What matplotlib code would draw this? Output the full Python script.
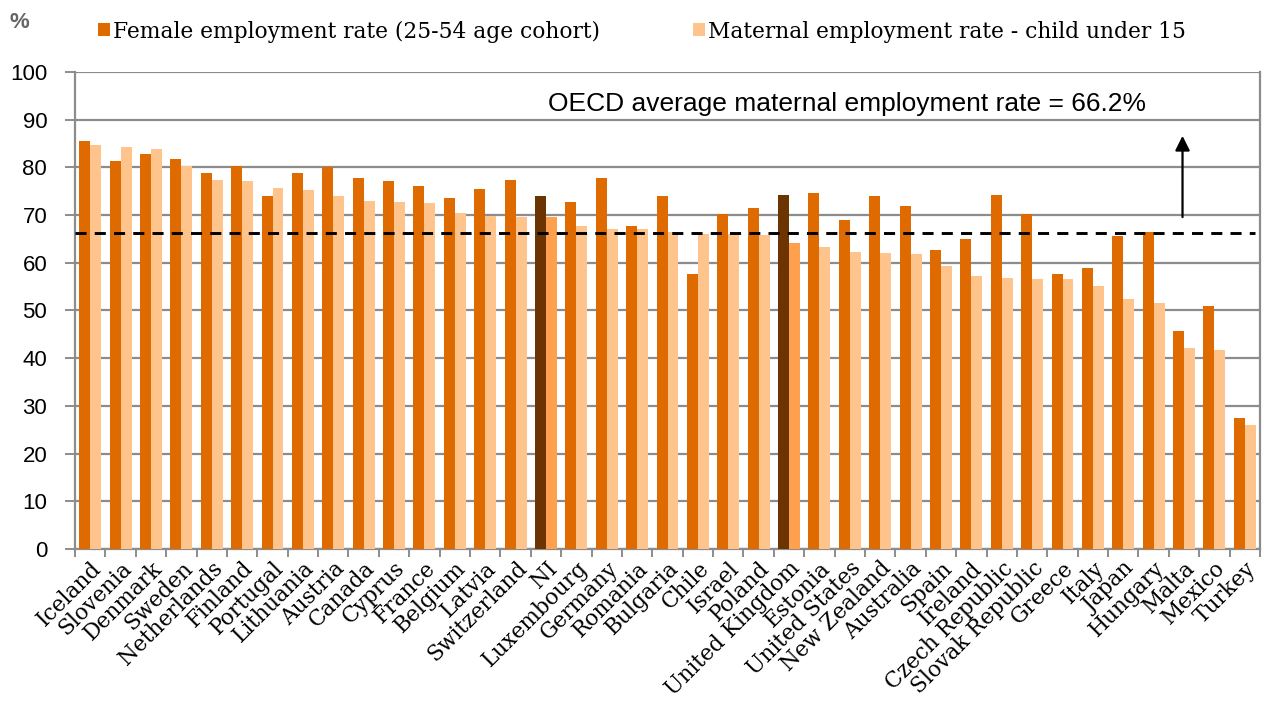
import matplotlib
matplotlib.use("Agg")
import matplotlib.pyplot as plt
from matplotlib.patches import Patch
import numpy as np

countries = ["Iceland", "Slovenia", "Denmark", "Sweden", "Netherlands", "Finland",
             "Portugal", "Lithuania", "Austria", "Canada", "Cyprus", "France",
             "Belgium", "Latvia", "Switzerland", "NI", "Luxembourg", "Germany",
             "Romania", "Bulgaria", "Chile", "Israel", "Poland", "United Kingdom",
             "Estonia", "United States", "New Zealand", "Australia", "Spain",
             "Ireland", "Czech Republic", "Slovak Republic", "Greece", "Italy",
             "Japan", "Hungary", "Malta", "Mexico", "Turkey"]

female_rate = [85.6, 81.3, 82.9, 81.8, 78.9, 80.3, 74.0, 78.9, 80.1, 77.8, 77.1, 76.2,
               73.6, 75.5, 77.4, 73.9, 72.8, 77.8, 67.8, 73.9, 57.7, 70.2, 71.4, 74.3,
               74.7, 69.0, 74.1, 72.0, 62.6, 65.0, 74.3, 70.3, 57.6, 58.9, 65.6, 66.5,
               45.8, 51.0, 27.5]

maternal_rate = [84.7, 84.3, 83.9, 80.3, 77.4, 77.1, 75.6, 75.3, 73.9, 72.9, 72.8, 72.5,
                 70.5, 69.8, 69.6, 69.5, 67.7, 67.1, 67.0, 66.5, 66.0, 66.0, 65.8, 64.2,
                 63.4, 62.3, 62.1, 61.9, 59.3, 57.3, 56.8, 56.7, 56.5, 55.2, 52.4, 51.6,
                 42.1, 41.8, 25.9]

oecd_average = 66.2
highlighted = ["NI", "United Kingdom"]

yticks = list(range(0, 101, 10))

c_female = "#DE6A00"
c_maternal = "#FFC38C"
c_female_hl = "#6B3400"
c_maternal_hl = "#FFA04E"
grid_gray = "#8C8C8C"

fig = plt.figure(figsize=(12.64, 7.04), dpi=100)
ax = fig.add_axes([75 / 1264, 1 - 549 / 704, (1260 - 75) / 1264, (549 - 72) / 704])

x = np.arange(len(countries))
w = 0.36
fcols = [c_female_hl if c in highlighted else c_female for c in countries]
mcols = [c_maternal_hl if c in highlighted else c_maternal for c in countries]
ax.bar(x - w / 2, female_rate, width=w, color=fcols, zorder=3)
ax.bar(x + w / 2, maternal_rate, width=w, color=mcols, zorder=3)

ax.set_xlim(-0.5, len(countries) - 0.5)
ax.set_ylim(0, 100)
ax.set_yticks(yticks)
ax.set_yticklabels([str(v) for v in yticks], fontsize=16, family="Liberation Sans")
ax.yaxis.grid(True, color=grid_gray, linewidth=1.6, zorder=0)
ax.set_axisbelow(True)

ax.set_xticks(x)
ax.set_xticklabels(countries, rotation=45, ha="right", va="top",
                   rotation_mode="anchor", fontsize=15.6, family="DejaVu Serif")
ax.tick_params(axis="x", length=0, pad=6)
ax.set_xticks(np.arange(len(countries) + 1) - 0.5, minor=True)
ax.tick_params(axis="x", which="minor", length=6, width=1.4, color=grid_gray, direction="out")
ax.tick_params(axis="y", length=7, width=1.4, color=grid_gray, pad=13)

for side in ["left", "bottom", "right"]:
    ax.spines[side].set_color(grid_gray)
    ax.spines[side].set_linewidth(1.6)
ax.spines["top"].set_visible(False)

ax.axhline(oecd_average, xmin=0, xmax=0.996, color="black", linestyle=(0, (3.8, 2.8)),
           linewidth=2.1, zorder=4)
ax.annotate("", xy=(35.95, 87.2), xytext=(35.95, 69.0),
            arrowprops=dict(arrowstyle="-|>", color="black", lw=1.6,
                            mutation_scale=22), zorder=5)
ax.text(15.07, 93.3, f"OECD average maternal employment rate = {oecd_average}%",
        fontsize=19, family="Liberation Sans", ha="left", va="center", zorder=5)

fig.text(10 / 1264, 1 - 22 / 704, "%", fontsize=16, color="#666666",
         family="Liberation Sans", fontweight="bold", ha="left", va="center")

handles = [Patch(facecolor=c_female, edgecolor="none"),
           Patch(facecolor=c_maternal, edgecolor="none")]
fig.legend(handles,
           ["Female employment rate (25-54 age cohort)",
            "Maternal employment rate - child under 15"],
           loc="center left", bbox_to_anchor=(98 / 1264, 1 - 31.5 / 704), ncol=2,
           frameon=False, prop={"family": "DejaVu Serif", "size": 15.7},
           handlelength=0.55, handleheight=0.55, handletextpad=0.14,
           columnspacing=4.27, borderaxespad=0, borderpad=0)

fig.savefig("out.png", dpi=100)
